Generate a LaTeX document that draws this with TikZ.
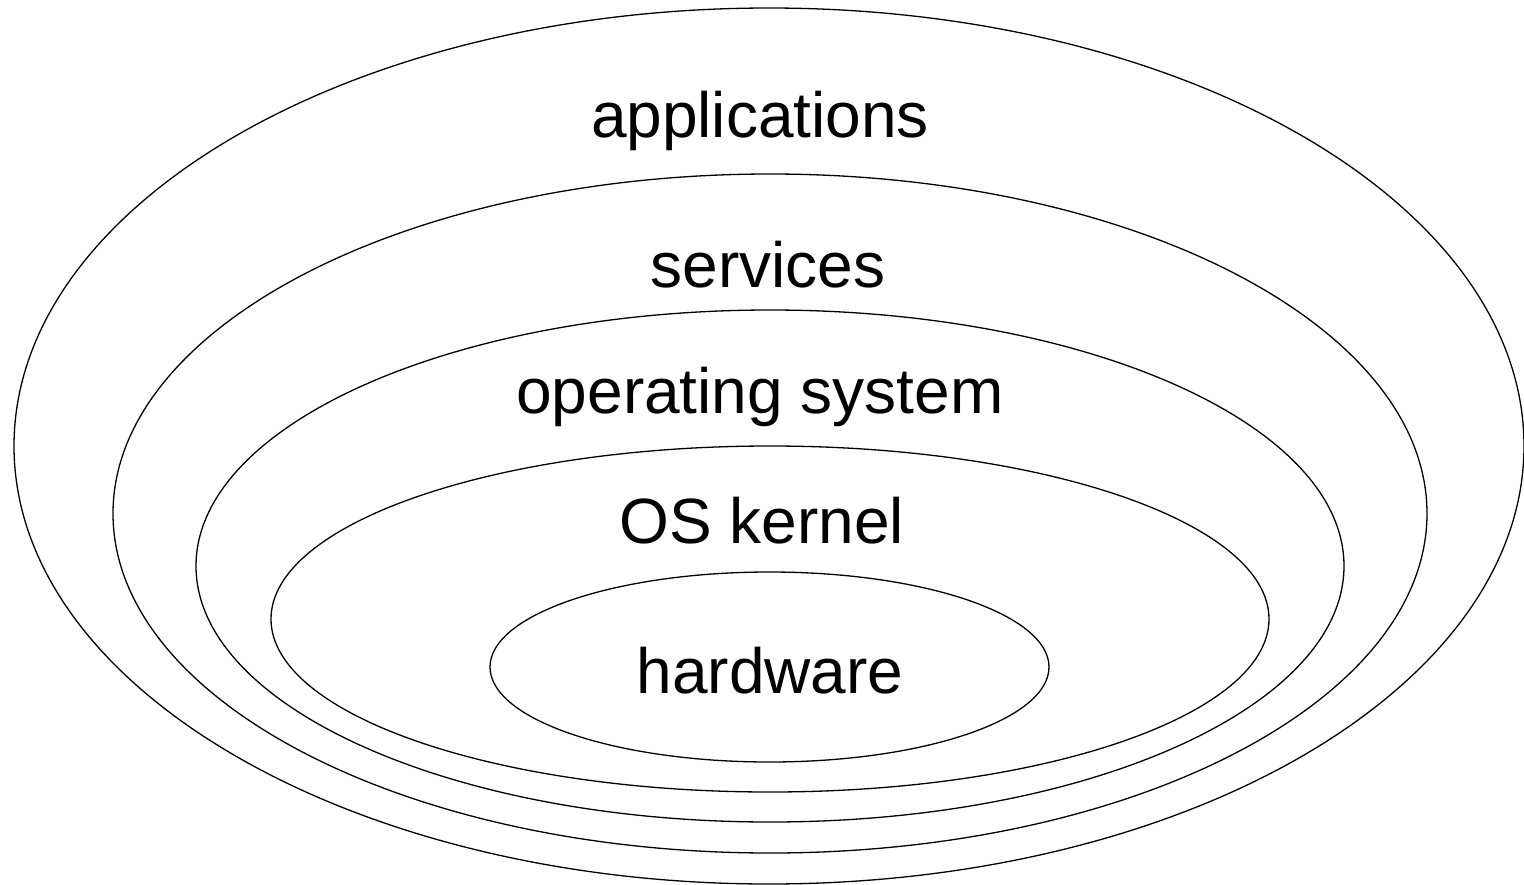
\documentclass[tikz,border=0pt]{standalone}
\usepackage{fontspec}
\setmainfont{Liberation Sans}
\begin{document}
\begin{tikzpicture}[x=1pt,y=-1pt,
  ring/.style={draw=black,line width=1.3pt},
  lbl/.style={anchor=base,inner sep=0pt,font=\fontsize{64}{70}\selectfont}]
\useasboundingbox (0,0) rectangle (1524,884);
\draw[ring] (769,446) ellipse [x radius=755,y radius=438];
\draw[ring] (770,513.5) ellipse [x radius=657,y radius=339.5];
\draw[ring] (770,566) ellipse [x radius=574,y radius=256];
\draw[ring] (770,619) ellipse [x radius=499,y radius=173];
\draw[ring] (769.5,667) ellipse [x radius=279.5,y radius=95];
\node[lbl] (app) at (760,137) {applications};
\node[lbl] (srv) at (768,287) {services};
\node[lbl] (os) at (760,413) {operating system};
\node[lbl] (ker) at (762,543) {OS kernel};
\node[lbl] (hw) at (770,693) {hardware};
\end{tikzpicture}
\end{document}
